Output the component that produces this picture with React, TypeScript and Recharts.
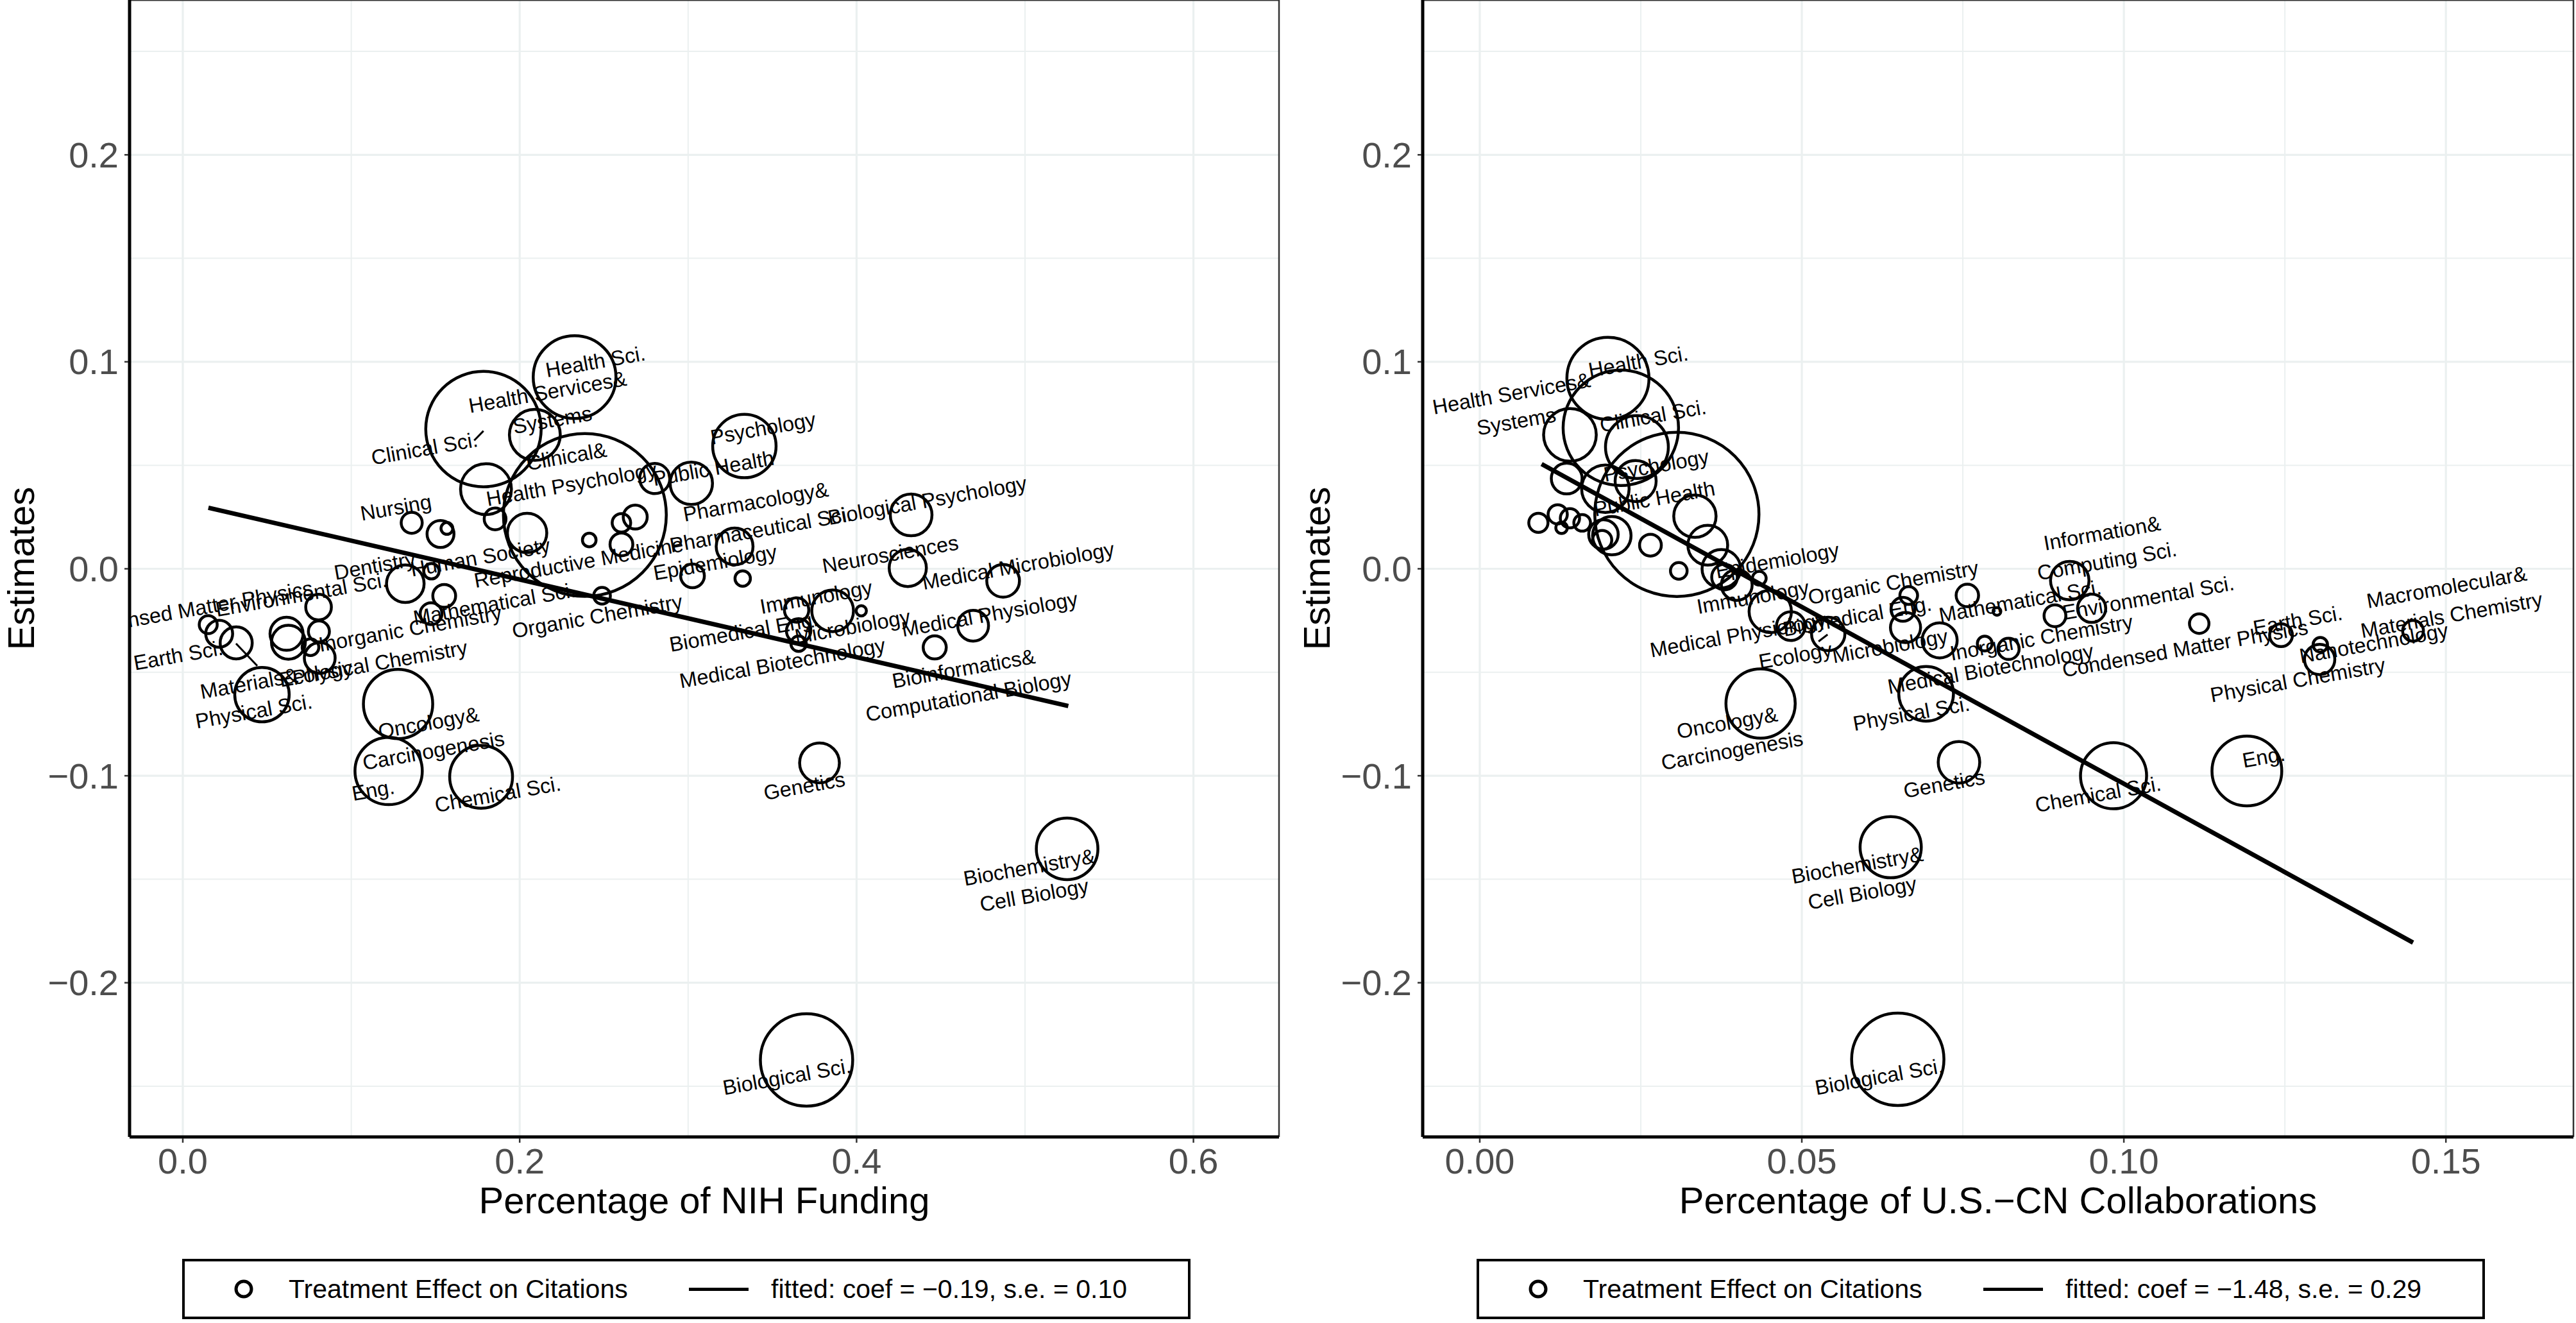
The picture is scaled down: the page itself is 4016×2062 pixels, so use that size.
import React from 'react';
import { ScatterChart, Scatter, XAxis, YAxis, CartesianGrid, ReferenceLine } from 'recharts';

const FONT = '"Liberation Sans", Arial, Helvetica, sans-serif';
const TICK_COLOR = '#4D4D4D';
const GRID_COLOR = '#EBF0F0';
const PLOT_H = 1772;
const CHART_H = 1910;
const R_UNIT = 12.8; // px radius per sqrt(weight)

// ---------- shared y axis ----------
const Y_DOMAIN: [number, number] = [-0.2745, 0.2748];
const yMajor = [-0.2, -0.1, 0, 0.1, 0.2];
const yMajorLabels = ['\u22120.2', '\u22120.1', '0.0', '0.1', '0.2'];
const yMinor = [-0.25, -0.15, -0.05, 0.05, 0.15, 0.25];

// ---------- NIH panel ----------
const nihDomain: [number, number] = [-0.0316, 0.6508];
const nihXMajor = [0, 0.2, 0.4, 0.6];
const nihXMajorLabels = ['0.0', '0.2', '0.4', '0.6'];
const nihXMinor = [0.1, 0.3, 0.5];

const nihShare = [
  0.2326, 0.1785, 0.209, 0.2387, 0.18, 0.1854, 0.1359, 0.153, 0.1568, 0.2044,
  0.2413, 0.2686, 0.2604, 0.2604, 0.2802, 0.3019, 0.3334, 0.3276, 0.3026, 0.3324,
  0.4324, 0.4304, 0.487, 0.4692, 0.4464, 0.3858, 0.3644, 0.4028, 0.3656, 0.3656,
  0.2489, 0.1321, 0.1476, 0.1552, 0.1474, 0.0806, 0.0808, 0.0616, 0.0627, 0.0758,
  0.0813, 0.0151, 0.0216, 0.0317, 0.047, 0.1278, 0.1222, 0.1771, 0.378, 0.525, 0.3703,
];
const nihEstimate = [
  0.0926, 0.0675, 0.0647, 0.026, 0.0385, 0.0241, 0.0222, 0.0168, 0.0195, 0.0173,
  0.0139, 0.025, 0.0222, 0.0118, 0.0436, 0.0413, 0.0593, 0.0108, -0.0034, -0.0047,
  0.026, 0.0004, -0.0058, -0.0275, -0.038, -0.0203, -0.0199, -0.0203, -0.03, -0.0362,
  -0.013, -0.0072, -0.0012, -0.0131, -0.0217, -0.0185, -0.0303, -0.0314, -0.0355, -0.0379,
  -0.0431, -0.027, -0.0314, -0.0358, -0.0608, -0.0653, -0.0977, -0.1005, -0.0938, -0.1353, -0.2373,
];
const nihWeight = [
  25.4, 49.4, 9.6, 98.4, 9.6, 1.76, 1.64, 2.69, 0.52, 5.75,
  0.69, 2.13, 1.27, 1.93, 3.37, 6.65, 14.9, 5.03, 2.09, 0.88,
  6.45, 5.13, 3.97, 3.52, 1.98, 6.45, 2.2, 0.39, 2.2, 0.88,
  1.03, 5.24, 0.88, 1.93, 1.76, 2.44, 1.64, 4.06, 4.25, 1.03,
  3.52, 1.2, 2.69, 3.81, 11.0, 17.8, 16.8, 14.65, 5.87, 14.06, 31.6,
];

const nihLabelText = [
  'Health Sci.', 'Health Services&\nSystems', 'Clinical Sci.', 'Clinical&\nHealth Psychology', 'Public Health',
  'Psychology', 'Nursing', 'Pharmacology&\nPharmaceutical Sci.', 'Biological Psychology', 'Dentistry',
  'Human Society', 'Reproductive Medicine', 'Epidemiology', 'Neurosciences', 'Medical Microbiology',
  'Condensed Matter Physics', 'Environmental Sci.', 'Earth Sci.', 'Materials&\nPhysical Sci.', 'Physical Chemistry',
  'Inorganic Chemistry', 'Mathematical Sci.', 'Organic Chemistry', 'Immunology', 'Biomedical Eng.',
  'Microbiology', 'Medical Physiology', 'Medical Biotechnology', 'Bioinformatics&\nComputational Biology', 'Oncology&\nCarcinogenesis',
  'Eng.', 'Chemical Sci.', 'Genetics', 'Biochemistry&\nCell Biology', 'Biological Sci.', 'Ecology',
];
const nihLabelX = [
  0.245, 0.218, 0.1435, 0.2293, 0.315,
  0.3445, 0.1265, 0.3416, 0.442, 0.114,
  0.1766, 0.235, 0.316, 0.42, 0.496,
  0.0042, 0.0704, -0.0027, 0.0407, 0.117,
  0.135, 0.185, 0.246, 0.376, 0.333,
  0.3976, 0.479, 0.356, 0.465, 0.1474,
  0.113, 0.187, 0.369, 0.504, 0.3586, 0.079,
];
const nihLabelY = [
  0.1, 0.0786, 0.058, 0.0475, 0.0485,
  0.0678, 0.0295, 0.0256, 0.033, 0.0014,
  0.0055, 0.003, 0.003, 0.007, 0.0014,
  -0.0197, -0.0125, -0.0419, -0.0622, -0.0454,
  -0.029, -0.017, -0.023, -0.0137, -0.0305,
  -0.028, -0.022, -0.0456, -0.055, -0.0812,
  -0.107, -0.109, -0.105, -0.151, -0.2455, -0.0507,
];
const nihFitX = [0.0152, 0.5257];
const nihFitY = [0.0295, -0.0663];
const nihSegFrom = [[0.1785, 0.0666], [0.0316, -0.0361]];
const nihSegTo = [[0.173, 0.062], [0.0442, -0.0469]];

// ---------- US-CN panel ----------
const cnDomain: [number, number] = [-0.00886, 0.1698];
const cnXMajor = [0, 0.05, 0.1, 0.15];
const cnXMajorLabels = ['0.00', '0.05', '0.10', '0.15'];
const cnXMinor = [0.025, 0.075, 0.125];

const cnShare = [
  0.0199, 0.0219, 0.014, 0.0244, 0.0306, 0.0135, 0.0195, 0.0242, 0.0334, 0.0354,
  0.0375, 0.038, 0.0399, 0.0434, 0.0091, 0.0121, 0.0127, 0.014, 0.0159, 0.0192,
  0.0205, 0.019, 0.0265, 0.0309, 0.0451, 0.0483, 0.0541, 0.0666, 0.0657, 0.0661,
  0.0714, 0.0757, 0.0803, 0.0784, 0.0821, 0.0693, 0.0436, 0.0744, 0.0984, 0.0638,
  0.0649, 0.0916, 0.0893, 0.095, 0.1117, 0.1244, 0.1305, 0.1304, 0.1449, 0.1191,
];
const cnEstimate = [
  0.092, 0.0681, 0.0647, 0.0588, 0.0263, 0.0436, 0.0387, 0.0424, 0.0254, 0.0114,
  0.0, -0.004, -0.0078, -0.0046, 0.0222, 0.0263, 0.0198, 0.0244, 0.0222, 0.0166,
  0.016, 0.0139, 0.0114, -0.001, -0.0206, -0.0277, -0.0315, -0.0129, -0.0196, -0.0284,
  -0.0346, -0.0129, -0.0206, -0.0361, -0.0387, -0.0604, -0.0651, -0.0935, -0.1, -0.1345,
  -0.237, -0.0057, -0.0227, -0.0191, -0.0265, -0.0321, -0.0367, -0.0438, -0.03, -0.0977,
];
const cnWeight = [
  25, 49.4, 10.3, 14.65, 100, 3.52, 8.36, 6.25, 6.65, 5.87,
  5.49, 2.44, 3.52, 0.7, 1.37, 1.37, 0.49, 1.37, 1.03, 3.23,
  5.49, 1.37, 1.76, 1.03, 6.65, 3.06, 4.13, 1.16, 2.11, 3.37,
  4.55, 1.87, 0.22, 0.81, 1.66, 11.1, 17.8, 6.4, 16.2, 13.9,
  31.6, 5.49, 1.76, 2.95, 1.41, 1.93, 0.78, 3.4, 1.6, 18.06,
];

const cnLabelText = [
  'Health Sci.', 'Health Services&\nSystems', 'Clinical Sci.', 'Psychology', 'Public Health',
  'Epidemiology', 'Immunology', 'Organic Chemistry', 'Medical Physiology', 'Biomedical Eng.',
  'Ecology', 'Microbiology', 'Mathematical Sci.', 'Inorganic Chemistry', 'Medical Biotechnology',
  'Information&\nComputing Sci.', 'Environmental Sci.', 'Condensed Matter Physics', 'Earth Sci.', 'Macromolecular&\nMaterials Chemistry',
  'Nanotechnology', 'Physical Chemistry', 'Physical Sci.', 'Oncology&\nCarcinogenesis', 'Genetics',
  'Chemical Sci.', 'Eng.', 'Biochemistry&\nCell Biology', 'Biological Sci.',
];
const cnLabelX = [
  0.0246, 0.0053, 0.0269, 0.0274, 0.0271,
  0.0462, 0.0424, 0.0642, 0.0401, 0.0586,
  0.049, 0.0637, 0.0839, 0.0872, 0.0793,
  0.097, 0.1038, 0.1095, 0.127, 0.1505,
  0.1388, 0.127, 0.067, 0.0388, 0.0721,
  0.096, 0.1217, 0.059, 0.062,
];
const cnLabelY = [
  0.1, 0.0779, 0.0738, 0.0498, 0.0338,
  0.0039, -0.0137, -0.0067, -0.032, -0.023,
  -0.042, -0.0374, -0.0157, -0.0333, -0.0484,
  0.0104, -0.0141, -0.0386, -0.025, -0.0157,
  -0.036, -0.0538, -0.07, -0.0812, -0.104,
  -0.109, -0.091, -0.15, -0.2455,
];
const cnFitX = [0.0096, 0.1449];
const cnFitY = [0.0506, -0.1806];
const cnSegFrom = [[0.054, -0.0318]];
const cnSegTo = [[0.0526, -0.0351]];

const legendPointText = 'Treatment Effect on Citations';
const nihFitLegend = 'fitted: coef = \u22120.19, s.e. = 0.10';
const cnFitLegend = 'fitted: coef = \u22121.48, s.e. = 0.29';

// ---------- shapes ----------
const Bubble = (props: any) => {
  const { cx, cy, payload } = props;
  if (cx == null || cy == null) return <g />;
  const r = R_UNIT * Math.sqrt(payload.w);
  return <circle cx={cx} cy={cy} r={r} fill="none" stroke="#000" strokeWidth={4.5} />;
};

const PointLabel = (props: any) => {
  const { cx, cy, payload } = props;
  if (cx == null || cy == null) return <g />;
  const lines: string[] = String(payload.text).split('\n');
  const lh = 44;
  return (
    <text
      transform={`rotate(-10 ${cx} ${cy})`}
      textAnchor="middle"
      dominantBaseline="central"
      fontSize={32.5}
      fontFamily={FONT}
      fill="#000"
    >
      {lines.map((ln, i) => (
        <tspan key={i} x={cx} y={cy + (i - (lines.length - 1) / 2) * lh}>
          {ln}
        </tspan>
      ))}
    </text>
  );
};

const NoShape = () => <g />;

const makeXTick = (ticks: number[], labels: string[]) => (props: any) => {
  const { x, y, payload } = props;
  const i = ticks.indexOf(payload.value);
  return (
    <g>
      <line x1={x} x2={x} y1={y + 2} y2={y + 9} stroke="#333" strokeWidth={2.5} />
      <text x={x} y={y + 37} textAnchor="middle" dominantBaseline="central" fontSize={56} fontFamily={FONT} fill={TICK_COLOR}>
        {labels[i]}
      </text>
    </g>
  );
};

const makeYTick = (ticks: number[], labels: string[]) => (props: any) => {
  const { x, y, payload } = props;
  const i = ticks.indexOf(payload.value);
  return (
    <g>
      <line x1={x - 8} x2={x - 2} y1={y} y2={y} stroke="#333" strokeWidth={2.5} />
      <text x={x - 17} y={y} textAnchor="end" dominantBaseline="central" fontSize={56} fontFamily={FONT} fill={TICK_COLOR}>
        {labels[i]}
      </text>
    </g>
  );
};

type PanelProps = {
  width: number;
  yAxisWidth: number;
  marginRight: number;
  xDomain: [number, number];
  xMajor: number[];
  xMajorLabels: string[];
  xMinor: number[];
  share: number[];
  estimate: number[];
  weight: number[];
  labelText: string[];
  labelX: number[];
  labelY: number[];
  fitX: number[];
  fitY: number[];
  segFrom: number[][];
  segTo: number[][];
};

function Panel(p: PanelProps) {
  const points = p.share.map((x, i) => ({ x, y: p.estimate[i], w: p.weight[i] }));
  const labels = p.labelText.map((text, i) => ({ x: p.labelX[i], y: p.labelY[i], text }));
  const fit = p.fitX.map((x, i) => ({ x, y: p.fitY[i] }));
  return (
    <ScatterChart width={p.width} height={CHART_H} margin={{ top: 0, right: p.marginRight, bottom: 0, left: 0 }}>
      <CartesianGrid horizontalValues={yMinor} verticalValues={p.xMinor} stroke={GRID_COLOR} strokeWidth={2} />
      <CartesianGrid horizontalValues={yMajor} verticalValues={p.xMajor} stroke={GRID_COLOR} strokeWidth={3.2} />
      <XAxis
        type="number"
        dataKey="x"
        domain={p.xDomain}
        allowDataOverflow
        ticks={p.xMajor}
        interval={0}
        tick={makeXTick(p.xMajor, p.xMajorLabels)}
        tickLine={false}
        tickSize={0}
        tickMargin={0}
        axisLine={{ stroke: '#000', strokeWidth: 5 }}
        height={CHART_H - PLOT_H}
      />
      <YAxis
        type="number"
        dataKey="y"
        domain={Y_DOMAIN}
        allowDataOverflow
        ticks={yMajor}
        interval={0}
        tick={makeYTick(yMajor, yMajorLabels)}
        tickLine={false}
        tickSize={0}
        tickMargin={0}
        axisLine={{ stroke: '#000', strokeWidth: 5 }}
        width={p.yAxisWidth}
      />
      <ReferenceLine y={Y_DOMAIN[1]} stroke="#333" strokeWidth={3} ifOverflow="visible" />
      <ReferenceLine x={p.xDomain[1]} stroke="#333" strokeWidth={2.5} ifOverflow="visible" />
      <Scatter data={points} shape={Bubble} isAnimationActive={false} />
      <Scatter data={fit} shape={NoShape} line={{ stroke: '#000', strokeWidth: 7 }} isAnimationActive={false} />
      {p.segFrom.map((f, i) => (
        <ReferenceLine
          key={i}
          segment={[{ x: f[0], y: f[1] }, { x: p.segTo[i][0], y: p.segTo[i][1] }]}
          stroke="#000"
          strokeWidth={3}
          ifOverflow="visible"
        />
      ))}
      <Scatter data={labels} shape={PointLabel} isAnimationActive={false} />
    </ScatterChart>
  );
}

function LegendBox({ left, fitText }: { left: number; fitText: string }) {
  const item: React.CSSProperties = {
    position: 'absolute',
    top: 0,
    height: '100%',
    display: 'flex',
    alignItems: 'center',
    whiteSpace: 'nowrap',
    fontSize: 41,
    color: '#000',
    fontFamily: FONT,
  };
  return (
    <div
      style={{
        position: 'absolute',
        left,
        top: 1962,
        width: 1572,
        height: 94,
        border: '4px solid #000',
        boxSizing: 'border-box',
        background: '#fff',
      }}
    >
      <svg width={40} height={40} style={{ position: 'absolute', left: 72, top: 23 }}>
        <circle cx={20} cy={20} r={12} fill="none" stroke="#000" strokeWidth={5} />
      </svg>
      <div style={{ ...item, left: 162 }}>{legendPointText}</div>
      <div style={{ position: 'absolute', left: 786, top: 40.5, width: 93, height: 5, background: '#000' }} />
      <div style={{ ...item, left: 914 }}>{fitText}</div>
    </div>
  );
}

const titleStyle: React.CSSProperties = {
  position: 'absolute',
  whiteSpace: 'nowrap',
  fontSize: 58,
  fontFamily: FONT,
  color: '#000',
  transform: 'translate(-50%, -50%)',
};

export default function App() {
  return (
    <div style={{ position: 'absolute', left: 0, top: 0, width: 4016, height: 2062, background: '#fff', overflow: 'hidden' }}>
      <div style={{ position: 'absolute', left: 0, top: 0 }}>
        <Panel
          width={2008}
          yAxisWidth={202}
          marginRight={14}
          xDomain={nihDomain}
          xMajor={nihXMajor}
          xMajorLabels={nihXMajorLabels}
          xMinor={nihXMinor}
          share={nihShare}
          estimate={nihEstimate}
          weight={nihWeight}
          labelText={nihLabelText}
          labelX={nihLabelX}
          labelY={nihLabelY}
          fitX={nihFitX}
          fitY={nihFitY}
          segFrom={nihSegFrom}
          segTo={nihSegTo}
        />
      </div>
      <div style={{ position: 'absolute', left: 2010, top: 0 }}>
        <Panel
          width={2006}
          yAxisWidth={208}
          marginRight={4}
          xDomain={cnDomain}
          xMajor={cnXMajor}
          xMajorLabels={cnXMajorLabels}
          xMinor={cnXMinor}
          share={cnShare}
          estimate={cnEstimate}
          weight={cnWeight}
          labelText={cnLabelText}
          labelX={cnLabelX}
          labelY={cnLabelY}
          fitX={cnFitX}
          fitY={cnFitY}
          segFrom={cnSegFrom}
          segTo={cnSegTo}
        />
      </div>
      <div style={{ ...titleStyle, left: 32, top: 886, transform: 'translate(-50%, -50%) rotate(-90deg)' }}>Estimates</div>
      <div style={{ ...titleStyle, left: 2052, top: 886, transform: 'translate(-50%, -50%) rotate(-90deg)' }}>Estimates</div>
      <div style={{ ...titleStyle, left: 1098, top: 1870 }}>Percentage of NIH Funding</div>
      <div style={{ ...titleStyle, left: 3115, top: 1870 }}>Percentage of U.S.{'\u2212'}CN Collaborations</div>
      <LegendBox left={284} fitText={nihFitLegend} />
      <LegendBox left={2302} fitText={cnFitLegend} />
    </div>
  );
}
